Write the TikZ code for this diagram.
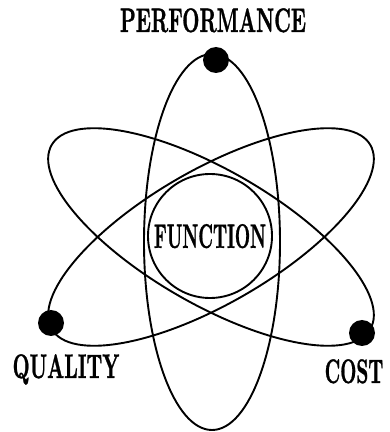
\documentclass[tikz,border=0pt]{standalone}
\usepackage{fontspec}
\usepackage{tikz}
\usetikzlibrary{positioning,calc}
\newfontfamily\heavy{lmroman10-bold}[Extension=.otf,FakeBold=1.2]
\definecolor{ink}{HTML}{000000}
\newcommand{\narrow}[2][0.6]{\scalebox{#1}[1]{#2}}
\tikzset{
  % atom
  orbit/.style={draw=ink,line width=1.9pt},
  nucleus/.style={circle,draw=ink,line width=1.9pt,inner sep=0pt,
                  minimum size=124pt,text depth=0pt},
  electron/.style={circle,fill=ink,inner sep=0pt,minimum size=26pt},
  lbl/.style={anchor=base,inner sep=0pt,text=ink,
              font=\fontsize{34}{34}\heavy},
}
\begin{document}
\begin{tikzpicture}[x=1pt,y=1pt]
\useasboundingbox (0,0) rectangle (390,432);
  \coordinate (core) at (211,195);
  \draw[orbit] (212,190) ellipse [x radius=68,y radius=188];
  \draw[orbit,rotate around={30:(core)}] (core) ellipse [x radius=184,y radius=67];
  \draw[orbit,rotate around={-30:(core)}] (core) ellipse [x radius=184,y radius=67];
  \node[nucleus,font=\fontsize{34}{34}\heavy] (func) at (210,196) {\narrow[0.52]{FUNCTION}};
  \node[electron] (perf) at (216,372) {};
  \node[electron] (qual) at (51,109) {};
  \node[electron] (cost) at (362,99) {};
  \node[lbl] (perflbl) at (213,400) {\narrow[0.59]{PERFORMANCE}};
  \node[lbl] (quallbl) at (66,54) {\narrow[0.58]{QUALITY}};
  \node[lbl] (costlbl) at (354,49) {\narrow[0.55]{COST}};
\end{tikzpicture}
\end{document}
